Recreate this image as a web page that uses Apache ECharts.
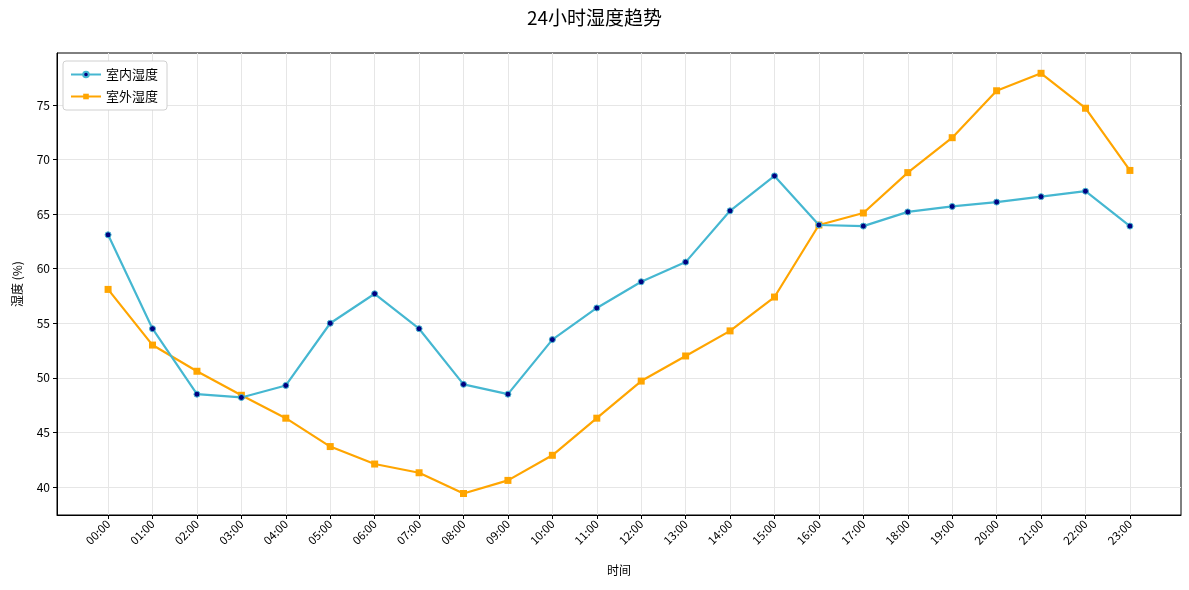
<!DOCTYPE html>
<html>
<head>
<meta charset="utf-8">
<script src="https://cdn.jsdelivr.net/npm/echarts@6/dist/echarts.min.js"></script>
<style>
  html, body { margin: 0; padding: 0; background: #fff; }
  #chart { width: 1189px; height: 590px; }
</style>
</head>
<body>
<div id="chart"></div>
<script>
const hours = ['00:00','01:00','02:00','03:00','04:00','05:00','06:00','07:00','08:00','09:00','10:00','11:00',
  '12:00','13:00','14:00','15:00','16:00','17:00','18:00','19:00','20:00','21:00','22:00','23:00'];
const indoor = [63.1, 54.5, 48.5, 48.2, 49.3, 55.0, 57.7, 54.5, 49.4, 48.5, 53.5, 56.4,
  58.8, 60.6, 65.3, 68.5, 64.0, 63.9, 65.2, 65.7, 66.1, 66.6, 67.1, 63.9];
const outdoor = [58.1, 53.0, 50.6, 48.4, 46.3, 43.7, 42.1, 41.3, 39.4, 40.6, 42.9, 46.3,
  49.7, 52.0, 54.3, 57.4, 64.0, 65.1, 68.8, 72.0, 76.3, 77.9, 74.7, 69.0];
const yTicks = [40, 45, 50, 55, 60, 65, 70, 75];

const font = 'Noto Sans CJK SC';
const hourIdx = hours.map((h, i) => i);

const myChart = echarts.init(document.getElementById('chart'));
const option = {
  animation: false,
  textStyle: { fontFamily: font },
  title: {
    text: '24小时湿度趋势',
    left: 'center',
    top: 3,
    textStyle: { fontFamily: font, fontSize: 19, fontWeight: 'normal', color: '#000' }
  },
  legend: {
    left: 63,
    top: 61,
    orient: 'vertical',
    itemWidth: 30,
    itemHeight: 7,
    itemGap: 9,
    padding: [7, 9, 7, 7],
    borderColor: '#d0d0d0',
    borderWidth: 1,
    borderRadius: 3,
    backgroundColor: '#fff',
    textStyle: { fontFamily: font, fontSize: 13, color: '#000' },
    data: ['室内湿度', '室外湿度']
  },
  grid: {
    left: 57, right: 8, top: 53, bottom: 75,
    show: true, borderColor: '#000', borderWidth: 1
  },
  xAxis: {
    type: 'value',
    min: -1.15,
    max: 24.15,
    name: '时间',
    nameLocation: 'middle',
    nameGap: 49,
    nameTextStyle: { fontFamily: font, fontSize: 12, color: '#000' },
    axisLine: { show: true, onZero: false, lineStyle: { color: '#000', width: 1 } },
    axisTick: { show: true, length: 4, lineStyle: { color: '#000' }, customValues: hourIdx },
    axisLabel: {
      customValues: hourIdx,
      rotate: 45,
      fontSize: 11.5,
      color: '#000',
      margin: 7,
      formatter: v => hours[Math.round(v)]
    },
    splitLine: { show: true, lineStyle: { color: '#e6e6e6', width: 1 } }
  },
  yAxis: {
    type: 'value',
    min: 37.43,
    max: 79.76,
    name: '湿度 (%)',
    nameLocation: 'middle',
    nameGap: 34,
    nameTextStyle: { fontFamily: font, fontSize: 12, color: '#000' },
    axisLine: { show: true, onZero: false, lineStyle: { color: '#000', width: 1 } },
    axisTick: { show: true, length: 4, lineStyle: { color: '#000' }, customValues: yTicks },
    axisLabel: { customValues: yTicks, fontSize: 12, color: '#000', margin: 7 },
    splitLine: { show: true, lineStyle: { color: '#e6e6e6', width: 1 } }
  },
  series: [
    {
      name: '室内湿度',
      type: 'line',
      data: indoor.map((v, i) => [i, v]),
      symbol: 'circle',
      symbolSize: 6,
      lineStyle: { color: '#45b7d1', width: 2.2 },
      itemStyle: { color: '#000080', borderColor: '#45b7d1', borderWidth: 1 },
      z: 3
    },
    {
      name: '室外湿度',
      type: 'line',
      data: outdoor.map((v, i) => [i, v]),
      symbol: 'rect',
      symbolSize: 7,
      lineStyle: { color: '#ffa500', width: 2.2 },
      itemStyle: { color: '#ffa500' },
      z: 2
    }
  ]
};
myChart.setOption(option);
</script>
</body>
</html>
